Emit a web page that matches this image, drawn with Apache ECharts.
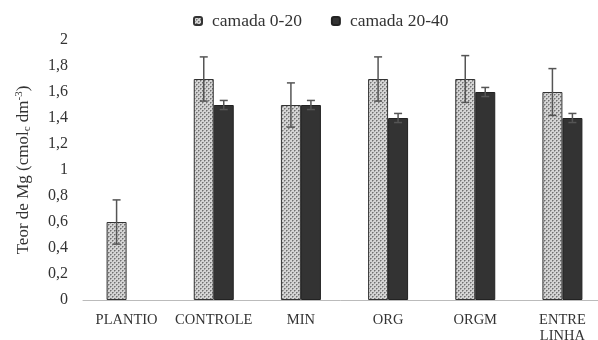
<!DOCTYPE html>
<html><head><meta charset="utf-8">
<script src="https://cdn.jsdelivr.net/npm/echarts@6/dist/echarts.min.js"></script>
<style>html,body{margin:0;padding:0;background:#fff}#c{width:598px;height:340px}</style>
</head><body><div id="c"></div>
<script>
var categories = ['PLANTIO', 'CONTROLE', 'MIN', 'ORG', 'ORGM', 'ENTRE\nLINHA'];
var seriesNames = ['camada 0-20', 'camada 20-40'];
var values0020 = [0.6, 1.7, 1.5, 1.7, 1.7, 1.6];
var errors0020 = [0.17, 0.17, 0.17, 0.17, 0.18, 0.18];
var values2040 = [null, 1.5, 1.5, 1.4, 1.6, 1.4];
var errors2040 = [null, 0.035, 0.035, 0.035, 0.035, 0.035];
var yTicks = [0, 0.2, 0.4, 0.6, 0.8, 1, 1.2, 1.4, 1.6, 1.8, 2];

var cv = document.createElement('canvas');
cv.width = 4; cv.height = 4;
var g = cv.getContext('2d');
g.fillStyle = '#d4d4d4'; g.fillRect(0, 0, 4, 4);
g.fillStyle = '#707070';
g.fillRect(0, 0, 1, 1); g.fillRect(2, 2, 1, 1);
g.fillStyle = '#a0a0a0';
g.fillRect(1, 0, 1, 1); g.fillRect(0, 1, 1, 1); g.fillRect(3, 2, 1, 1); g.fillRect(2, 3, 1, 1);

var BW = 20;
var font = '"Liberation Serif", "Times New Roman", serif';

function errSeries(vals, errs, offset) {
  var data = vals.map(function (v, i) { return v == null ? null : [i, v, errs[i]]; }).filter(function (d) { return d; });
  return {
    type: 'custom', silent: true, z: 10,
    renderItem: function (params, api) {
      var i = api.value(0), v = api.value(1), e = api.value(2);
      var hi = api.coord([i, v + e]), lo = api.coord([i, v - e]);
      var x = hi[0] + offset, cap = 4;
      var st = { stroke: '#555', lineWidth: 1.5 };
      return { type: 'group', children: [
        { type: 'line', shape: { x1: x, y1: hi[1], x2: x, y2: lo[1] }, style: st },
        { type: 'line', shape: { x1: x - cap, y1: hi[1], x2: x + cap, y2: hi[1] }, style: st },
        { type: 'line', shape: { x1: x - cap, y1: lo[1], x2: x + cap, y2: lo[1] }, style: st }
      ] };
    },
    data: data
  };
}

var chart = echarts.init(document.getElementById('c'), null, { renderer: 'canvas' });
chart.setOption({
  animation: false,
  textStyle: { fontFamily: font },
  legend: {
    top: 7, left: 188, itemWidth: 8, itemHeight: 8, itemGap: 29,
    textStyle: { fontFamily: font, fontSize: 17.5, color: '#333', padding: [0, 0, 0, 5] },
    data: seriesNames
  },
  grid: { left: 83, width: 523, top: 40, height: 260, containLabel: false, outerBoundsMode: 'none' },
  xAxis: {
    type: 'category', data: categories,
    axisLine: { lineStyle: { color: '#bbb', width: 1 } },
    axisTick: { show: false },
    axisLabel: { fontFamily: font, fontSize: 14.5, color: '#333', margin: 12, lineHeight: 16, interval: 0 }
  },
  yAxis: {
    type: 'value', min: 0, max: 2, interval: 0.2,
    splitLine: { show: false }, axisLine: { show: false }, axisTick: { show: false },
    axisLabel: {
      fontFamily: font, fontSize: 16, color: '#333', margin: 15,
      formatter: function (v) { return String(Math.round(v * 10) / 10).replace('.', ','); }
    },
    name: '{a|Teor de Mg (cmol}{s|c}{a| dm}{p|-3}{a|)}',
    nameLocation: 'middle', nameGap: 50, nameRotate: 90,
    nameTextStyle: {
      rich: {
        a: { fontFamily: font, fontSize: 17, color: '#333' },
        s: { fontFamily: font, fontSize: 11, color: '#333', verticalAlign: 'bottom', padding: [8, 0, 0, 0] },
        p: { fontFamily: font, fontSize: 11, color: '#333', verticalAlign: 'top', padding: [0, 0, 8, 0] }
      }
    }
  },
  series: [
    { name: seriesNames[0], type: 'bar', barWidth: BW, barGap: '0%', data: values0020,
      itemStyle: { color: { image: cv, repeat: 'repeat' }, borderColor: '#333', borderWidth: 1 } },
    { name: seriesNames[1], type: 'bar', barWidth: BW, barGap: '0%', data: values2040,
      itemStyle: { color: '#333333', borderColor: '#222', borderWidth: 1 } },
    errSeries(values0020, errors0020, -BW / 2),
    errSeries(values2040, errors2040, BW / 2)
  ]
});
</script></body></html>
